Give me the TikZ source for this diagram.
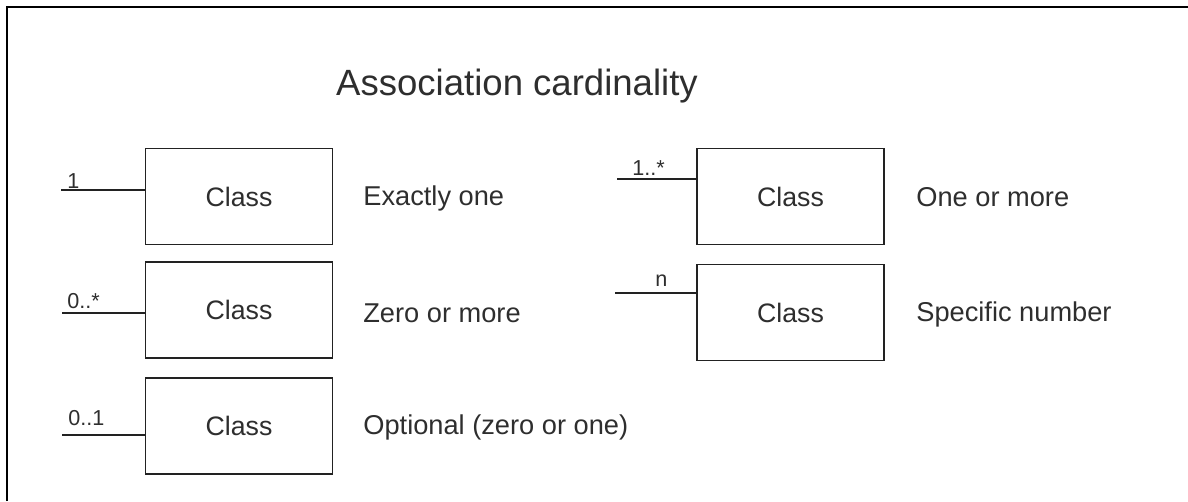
\documentclass[tikz,border=0pt]{standalone}
\usepackage{fontspec}
\setmainfont{Liberation Sans}
\usetikzlibrary{positioning,calc}
\definecolor{inkgray}{HTML}{2E2E2E}
\definecolor{linegray}{HTML}{222222}
\tikzset{
  frame/.style={draw=black, line width=1.5pt},
  classbox/.style={draw=linegray, line width=0.85pt, fill=white, minimum width=3.74cm, minimum height=1.92cm, inner sep=0pt, text=inkgray, font=\fontsize{15.2}{18}\selectfont},
  desc/.style={anchor=west, inner sep=0pt, text=inkgray, font=\fontsize{15.5}{18}\selectfont},
  mult/.style={anchor=base west, inner sep=0pt, text=inkgray, font=\fontsize{12.3}{14}\selectfont},
  assoc/.style={draw=linegray, line width=0.85pt},
  heading/.style={inner sep=0pt, text=inkgray, font=\fontsize{20.8}{25}\selectfont}
}

\begin{document}
\begin{tikzpicture}[x=0.02cm, y=-0.02cm]
  \useasboundingbox (0,0) rectangle (1188,501);
  \draw[frame] (7,501) -- (7,7) -- (1188,7);

  \node[heading, anchor=base] (title) at (517,95) {Association cardinality};

  % left column
  \node[classbox] (c1) at (239,196.5) {Class};
  \node[classbox] (c2) at (239,310) {Class};
  \node[classbox] (c3) at (239,426) {Class};
  \node[desc] (d1) at (363,198) {Exactly one};
  \node[desc] (d2) at (363,313) {Zero or more};
  \node[desc] (d3) at (363,427) {Optional (zero or one)};

  % right column
  \node[classbox] (c4) at (790.5,196.5) {Class};
  \node[classbox] (c5) at (790.5,312.5) {Class};
  \node[desc] (d4) at (916,197) {One or more};
  \node[desc] (d5) at (916,314) {Specific number};

  % association ends
  \coordinate (e1) at (61,190);
  \coordinate (e2) at (62,313);
  \coordinate (e3) at (62,435);
  \coordinate (e4) at (617,179);
  \coordinate (e5) at (615,293);
  \foreach \e/\c in {e1/c1,e2/c2,e3/c3,e4/c4,e5/c5}
    \draw[assoc] (\e) -- (\e -| \c.west);

  \node[mult] (m1) at (67,188) {1};
  \node[mult] (m2) at (67,308) {0..*};
  \node[mult] (m3) at (68,425) {0..1};
  \node[mult] (m4) at (632,175) {1..*};
  \node[mult] (m5) at (655,286) {n};
\end{tikzpicture}
\end{document}
